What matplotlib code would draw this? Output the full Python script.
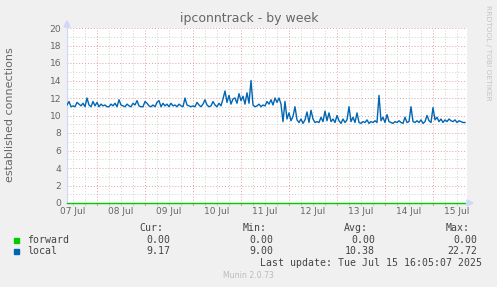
import matplotlib
matplotlib.use('Agg')
import numpy as np
import matplotlib.pyplot as plt
from matplotlib.transforms import blended_transform_factory

W, H = 497, 287

# hourly samples of "local" starting 07 Jul 09:00
local = [
    11.2, 11.6, 11.0, 11.1, 11.0, 11.5, 11.3, 11.1, 11.4, 11.0,
    12.0, 11.2, 11.0, 11.6, 11.1, 11.5, 11.0, 11.3, 11.1, 11.2,
    11.0, 11.0, 11.3, 11.1, 11.4, 11.0, 11.8, 11.2, 11.1, 11.0,
    11.3, 11.1, 11.0, 11.4, 11.2, 11.7, 11.1, 11.0, 11.0, 11.6,
    11.4, 11.1, 11.0, 11.2, 11.0, 11.5, 11.7, 11.0, 11.4, 11.1,
    11.3, 11.0, 11.4, 11.1, 11.2, 11.0, 11.3, 11.1, 11.0, 12.0,
    11.2, 11.1, 11.0,
    11.1, 11.0, 11.5, 11.2, 11.0, 11.3, 11.8, 11.2, 11.0, 11.1,
    11.6, 11.2, 11.0, 11.4, 11.1, 11.9, 12.8, 11.5, 12.3, 11.3,
    11.9, 12.0, 11.4, 12.5, 11.7, 12.2, 11.3, 12.6, 11.4, 14.0,
    11.2, 11.0, 11.1, 11.3, 11.0, 11.2, 11.1, 11.6, 11.3, 11.8,
    11.2, 12.0, 11.5, 12.0, 11.3,
    9.3, 11.6, 9.6, 10.3, 9.4, 9.9, 11.0, 9.5, 9.2, 9.6,
    9.1, 9.5, 10.4, 9.2, 10.6, 9.6, 9.2, 9.3, 9.2, 9.8,
    9.3, 10.5, 9.4, 10.3, 9.3, 9.6, 9.2, 10.0, 9.4, 9.1,
    9.6, 9.2, 9.5, 11.0, 9.3, 9.8, 9.2, 10.3, 9.2, 9.1,
    9.3, 9.2, 9.5, 9.1, 9.3, 9.2, 9.4, 9.2, 12.3, 9.4,
    9.8, 9.2, 10.1, 9.3, 9.2, 9.1, 9.3, 9.2, 9.4, 9.2,
    9.1, 9.8, 9.2, 9.3, 11.0, 9.3, 9.2, 9.4, 9.2, 9.5,
    9.1, 9.3, 10.0, 9.4, 9.2, 10.9, 9.5, 9.8, 9.3, 9.6,
    9.2, 9.5, 9.3, 9.6, 9.4, 9.3, 9.5, 9.2, 9.4, 9.3,
    9.2, 9.2,
]
forward = [0.0] * len(local)

day_labels = ['07 Jul', '08 Jul', '09 Jul', '10 Jul', '11 Jul',
              '12 Jul', '13 Jul', '14 Jul', '15 Jul']
series_names = ['forward', 'local']
series_colors = ['#00cc00', '#0066b3']
cur_vals = ['0.00', '9.17']
min_vals = ['0.00', '9.00']
avg_vals = ['0.00', '10.38']
max_vals = ['0.00', '22.72']

start = 9 / 24.0          # days since 07 Jul 00:00
span = 400 / 48.0         # visible range in days

FONT = '#666666'


def fx(x):
    return x / W


def fy(y):
    return 1 - y / H


fig = plt.figure(figsize=(W / 100, H / 100), dpi=100, facecolor='#f0f0f0')
ax = fig.add_axes([fx(67), fy(203), 400 / W, 175 / H], facecolor='white')

t = start + np.arange(len(local)) / 24.0
ax.set_xlim(start, start + span)
ax.set_ylim(0, 20)

# grid: minor gray, major red, both dotted
for v in np.arange(1, 21, 1):
    c = '#e0a0a0' if v % 2 == 0 else '#d0d0d0'
    ax.axhline(v, color=c, lw=0.7, ls=(0, (1, 2)), zorder=1)
for v in np.arange(0.5, 9, 0.25):
    if v <= start or v >= start + span:
        continue
    c = '#e0a0a0' if abs(v - round(v)) < 1e-6 else '#d0d0d0'
    ax.axvline(v, color=c, lw=0.7, ls=(0, (1, 2)), zorder=1)

for s in ['top', 'right']:
    ax.spines[s].set_visible(False)
ax.spines['left'].set_color('#cfd6f8')
ax.spines['bottom'].set_color('#cfd6f8')
ax.spines['left'].set_zorder(2)
ax.spines['bottom'].set_zorder(2)

ax.plot(t, local, color=series_colors[1], lw=1.0, zorder=3)
ax.plot(t, forward, color=series_colors[0], lw=1.0, zorder=5, clip_on=False)

ax.set_yticks(np.arange(0, 21, 2))
ax.tick_params(axis='y', length=0, pad=4, labelsize=6.6, labelcolor=FONT)
ax.set_xticks(np.arange(len(day_labels)) + 0.5)
ax.set_xticklabels(day_labels)
ax.tick_params(axis='x', length=0, pad=3, labelsize=6.5, labelcolor=FONT)

# little tick marks under the axis
trans = blended_transform_factory(ax.transData, ax.transAxes)
for v in np.arange(0.5, 9, 0.25):
    if start < v < start + span:
        c = '#e0a0a0' if abs(v - round(v)) < 1e-6 else '#d0d0d0'
        ax.plot([v, v], [-0.012, 0], color=c, lw=0.8, transform=trans,
                clip_on=False, zorder=2)

# axis arrows
fig.patches.append(plt.Polygon([[fx(64), fy(27)], [fx(70), fy(27)], [fx(67), fy(21)]],
                               closed=True, color='#cfd6f8', transform=fig.transFigure))
fig.patches.append(plt.Polygon([[fx(467), fy(200)], [fx(467), fy(206)], [fx(473), fy(203)]],
                               closed=True, color='#cfd6f8', transform=fig.transFigure))

fig.text(fx(249), fy(18.5), 'ipconntrack - by week', ha='center', va='center',
         fontsize=9, color=FONT)
fig.text(fx(10), fy(115), 'established connections', rotation=90,
         ha='center', va='center', fontsize=8, color=FONT)
fig.text(fx(488), fy(53), 'RRDTOOL / TOBI OETIKER', rotation=270,
         ha='center', va='center', fontsize=5.4, color='#c4c4c4')

# legend block
mono = dict(family='DejaVu Sans Mono', fontsize=7.1, color='#444444', va='center')
for text, xr in [('Cur:', 163), ('Min:', 267), ('Avg:', 368), ('Max:', 470)]:
    fig.text(fx(xr), fy(228), text, ha='right', **mono)
rows_y = [240, 251.5]
for i, name in enumerate(series_names):
    y = rows_y[i]
    fig.patches.append(plt.Rectangle((fx(14), fy(y + 2.5)), 5 / W, 5 / H,
                                     color=series_colors[i], transform=fig.transFigure))
    fig.text(fx(27), fy(y), name, ha='left', **mono)
    fig.text(fx(170), fy(y), cur_vals[i], ha='right', **mono)
    fig.text(fx(273), fy(y), min_vals[i], ha='right', **mono)
    fig.text(fx(375), fy(y), avg_vals[i], ha='right', **mono)
    fig.text(fx(477), fy(y), max_vals[i], ha='right', **mono)
fig.text(fx(482), fy(263.5), 'Last update: Tue Jul 15 16:05:07 2025', ha='right', **mono)
fig.text(fx(248), fy(276), 'Munin 2.0.73', ha='center', va='center',
         fontsize=5.6, color='#bbbbbb')

fig.savefig('out.png', dpi=100, facecolor=fig.get_facecolor())
